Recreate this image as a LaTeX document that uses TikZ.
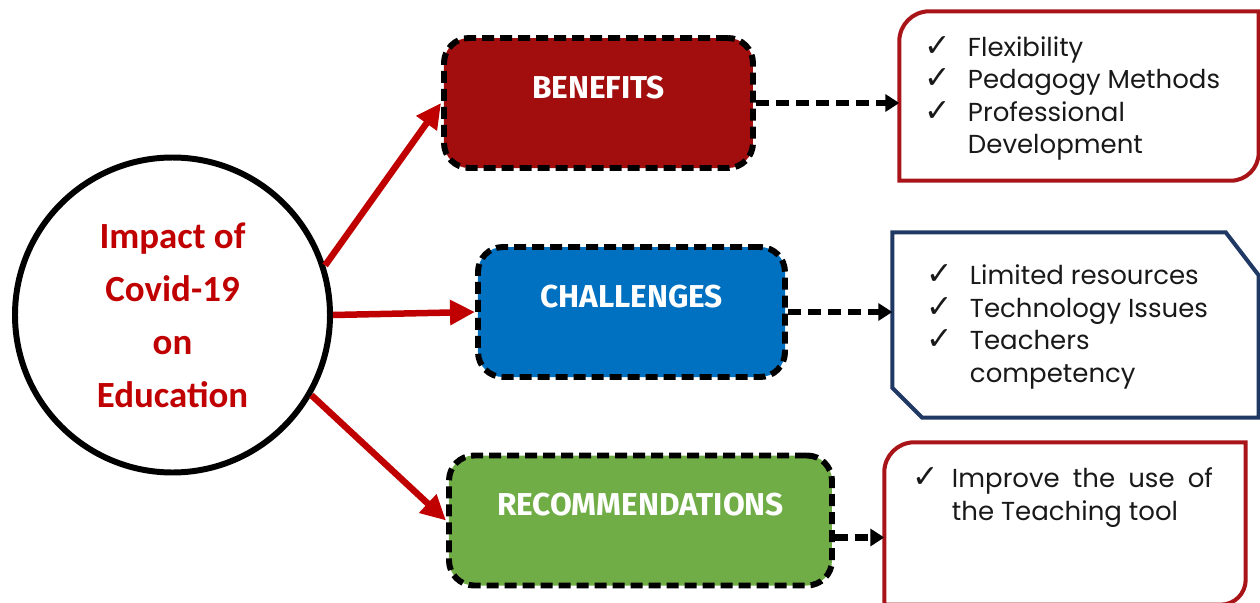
\documentclass[tikz,border=0pt]{standalone}
\usepackage{fontspec}
\setmainfont{Poppins}
\newfontfamily\hubfont{Carlito}
\newfontfamily\labfont{Fira Sans}
\newfontfamily\tickfont{DejaVu Sans}
\usepackage{tikz}
\usetikzlibrary{
  arrows.meta,
  calc
}
\usepackage{xcolor}
\definecolor{benred}{RGB}{162, 14, 14}
\definecolor{chablue}{RGB}{0, 112, 192}
\definecolor{recgreen}{RGB}{112, 173, 71}
\definecolor{arrred}{RGB}{192, 0, 0}
\definecolor{frred}{RGB}{168, 20, 24}
\definecolor{frnavy}{RGB}{32, 56, 100}
\newcommand{\tick}{\makebox[0.43cm][l]{\tickfont\fontsize{9}{9}\selectfont\char"2713}}
\tikzset{
  % Markaziy doira
  hub/.style      = {circle, draw=black, line width=1.7pt, minimum size=3.15cm,
                     align=center, text=arrred,
                     font=\hubfont\bfseries\fontsize{10.5}{15.1}\selectfont},
  % Toifa bloklari
  catbox/.style   = {rectangle, rounded corners=0.25cm, draw=black, line width=1.7pt,
                     dash pattern=on 0.12cm off 0.06cm, minimum height=1.3cm,
                     text=white, font=\labfont\bfseries\fontsize{9}{11}\selectfont,
                     text height=0.2cm, text depth=0.3cm},
  % Strelkalar
  mainarrow/.style= {arrred, line width=1.85pt, -{Triangle[length=0.25cm,width=0.24cm]}},
  dasharrow/.style= {black, line width=1.8pt, dash pattern=on 0.13cm off 0.07cm,
                     -{Triangle[length=0.14cm,width=0.17cm]}},
  % Ro'yxat ramkalari
  framebox/.style = {rectangle, inner sep=0pt},
  listbox/.style  = {inner sep=0pt, align=left, text=black!90,
                     font=\fontsize{7.4}{9.25}\selectfont},
  redframe/.style = {draw=frred, line width=1.15pt},
  navyframe/.style= {draw=frnavy, line width=1.15pt},
}

\begin{document}
\begin{tikzpicture}
  \clip (0,0) rectangle (12.6,-6.03);
  % Markaziy doira
  \node[hub] (hub) at (1.725,-3.15) {Impact of\\Covid-19\\on\\Education};
  % Toifa bloklari
  \node[catbox, fill=benred,   minimum width=3.09cm] (ben) at (5.985,-1.03) {BENEFITS};
  \node[catbox, fill=chablue,  minimum width=3.07cm] (cha) at (6.315,-3.12) {CHALLENGES};
  \node[catbox, fill=recgreen, minimum width=3.83cm] (rec) at (6.405,-5.205) {RECOMMENDATIONS};
  % Qizil strelkalar
  \draw[mainarrow] (hub.18)  -- (ben.west);
  \draw[mainarrow] (hub.east) -- (cha.west);
  \draw[mainarrow] (hub.-30) -- (rec.west);
  % Ramkalar
  \node[framebox, minimum width=3.58cm, minimum height=1.68cm] (benframe) at (10.79,-0.96) {};
  \node[framebox, minimum width=3.65cm, minimum height=1.84cm] (chaframe) at (10.755,-3.25) {};
  \node[framebox, minimum width=3.60cm, minimum height=1.61cm] (recframe) at (10.65,-5.235) {};
  \draw[redframe] (benframe.south west) -- ([yshift=-0.3cm]benframe.north west)
    arc[start angle=180, end angle=90, radius=0.3cm] -- (benframe.north east)
    -- ([yshift=0.28cm]benframe.south east)
    arc[start angle=0, end angle=-90, radius=0.28cm] -- cycle;
  \draw[navyframe] ([yshift=0.3cm]chaframe.south west) -- (chaframe.north west)
    -- ([xshift=-0.33cm]chaframe.north east) -- ([yshift=-0.43cm]chaframe.north east)
    -- (chaframe.south east) -- ([xshift=0.3cm]chaframe.south west) -- cycle;
  \draw[redframe] (recframe.south west) -- ([yshift=-0.3cm]recframe.north west)
    arc[start angle=180, end angle=90, radius=0.3cm] -- (recframe.north east)
    -- ([yshift=0.25cm]recframe.south east)
    arc[start angle=0, end angle=-90, radius=0.25cm] -- cycle;
  % Ro'yxatlar
  \node[listbox, anchor=west] (benlist) at ([xshift=0.25cm,yshift=-0.025cm]benframe.west)
    {\tick Flexibility\\ \tick Pedagogy Methods\\ \tick Professional\\ \hspace*{0.43cm}Development};
  \node[listbox, anchor=west] (chalist) at ([xshift=0.34cm,yshift=-0.02cm]chaframe.west)
    {\tick Limited resources\\ \tick Technology Issues\\ \tick Teachers\\ \hspace*{0.43cm}competency};
  \node[listbox, anchor=west] (reclist) at ([xshift=0.28cm,yshift=0.26cm]recframe.west)
    {\makebox[0.39cm][l]{\tickfont\fontsize{9}{9}\selectfont\char"2713}\makebox[2.61cm][s]{Improve the use of}\\ \hspace*{0.39cm}the Teaching tool};
  % Punktir strelkalar
  \draw[dasharrow] (ben.east) -- (ben.east -| benframe.west);
  \draw[dasharrow] (cha.east) -- (cha.east -| chaframe.west);
  \draw[dasharrow] ([yshift=-0.17cm]rec.east) -- ([yshift=-0.17cm]rec.east -| recframe.west);
\end{tikzpicture}
\end{document}
